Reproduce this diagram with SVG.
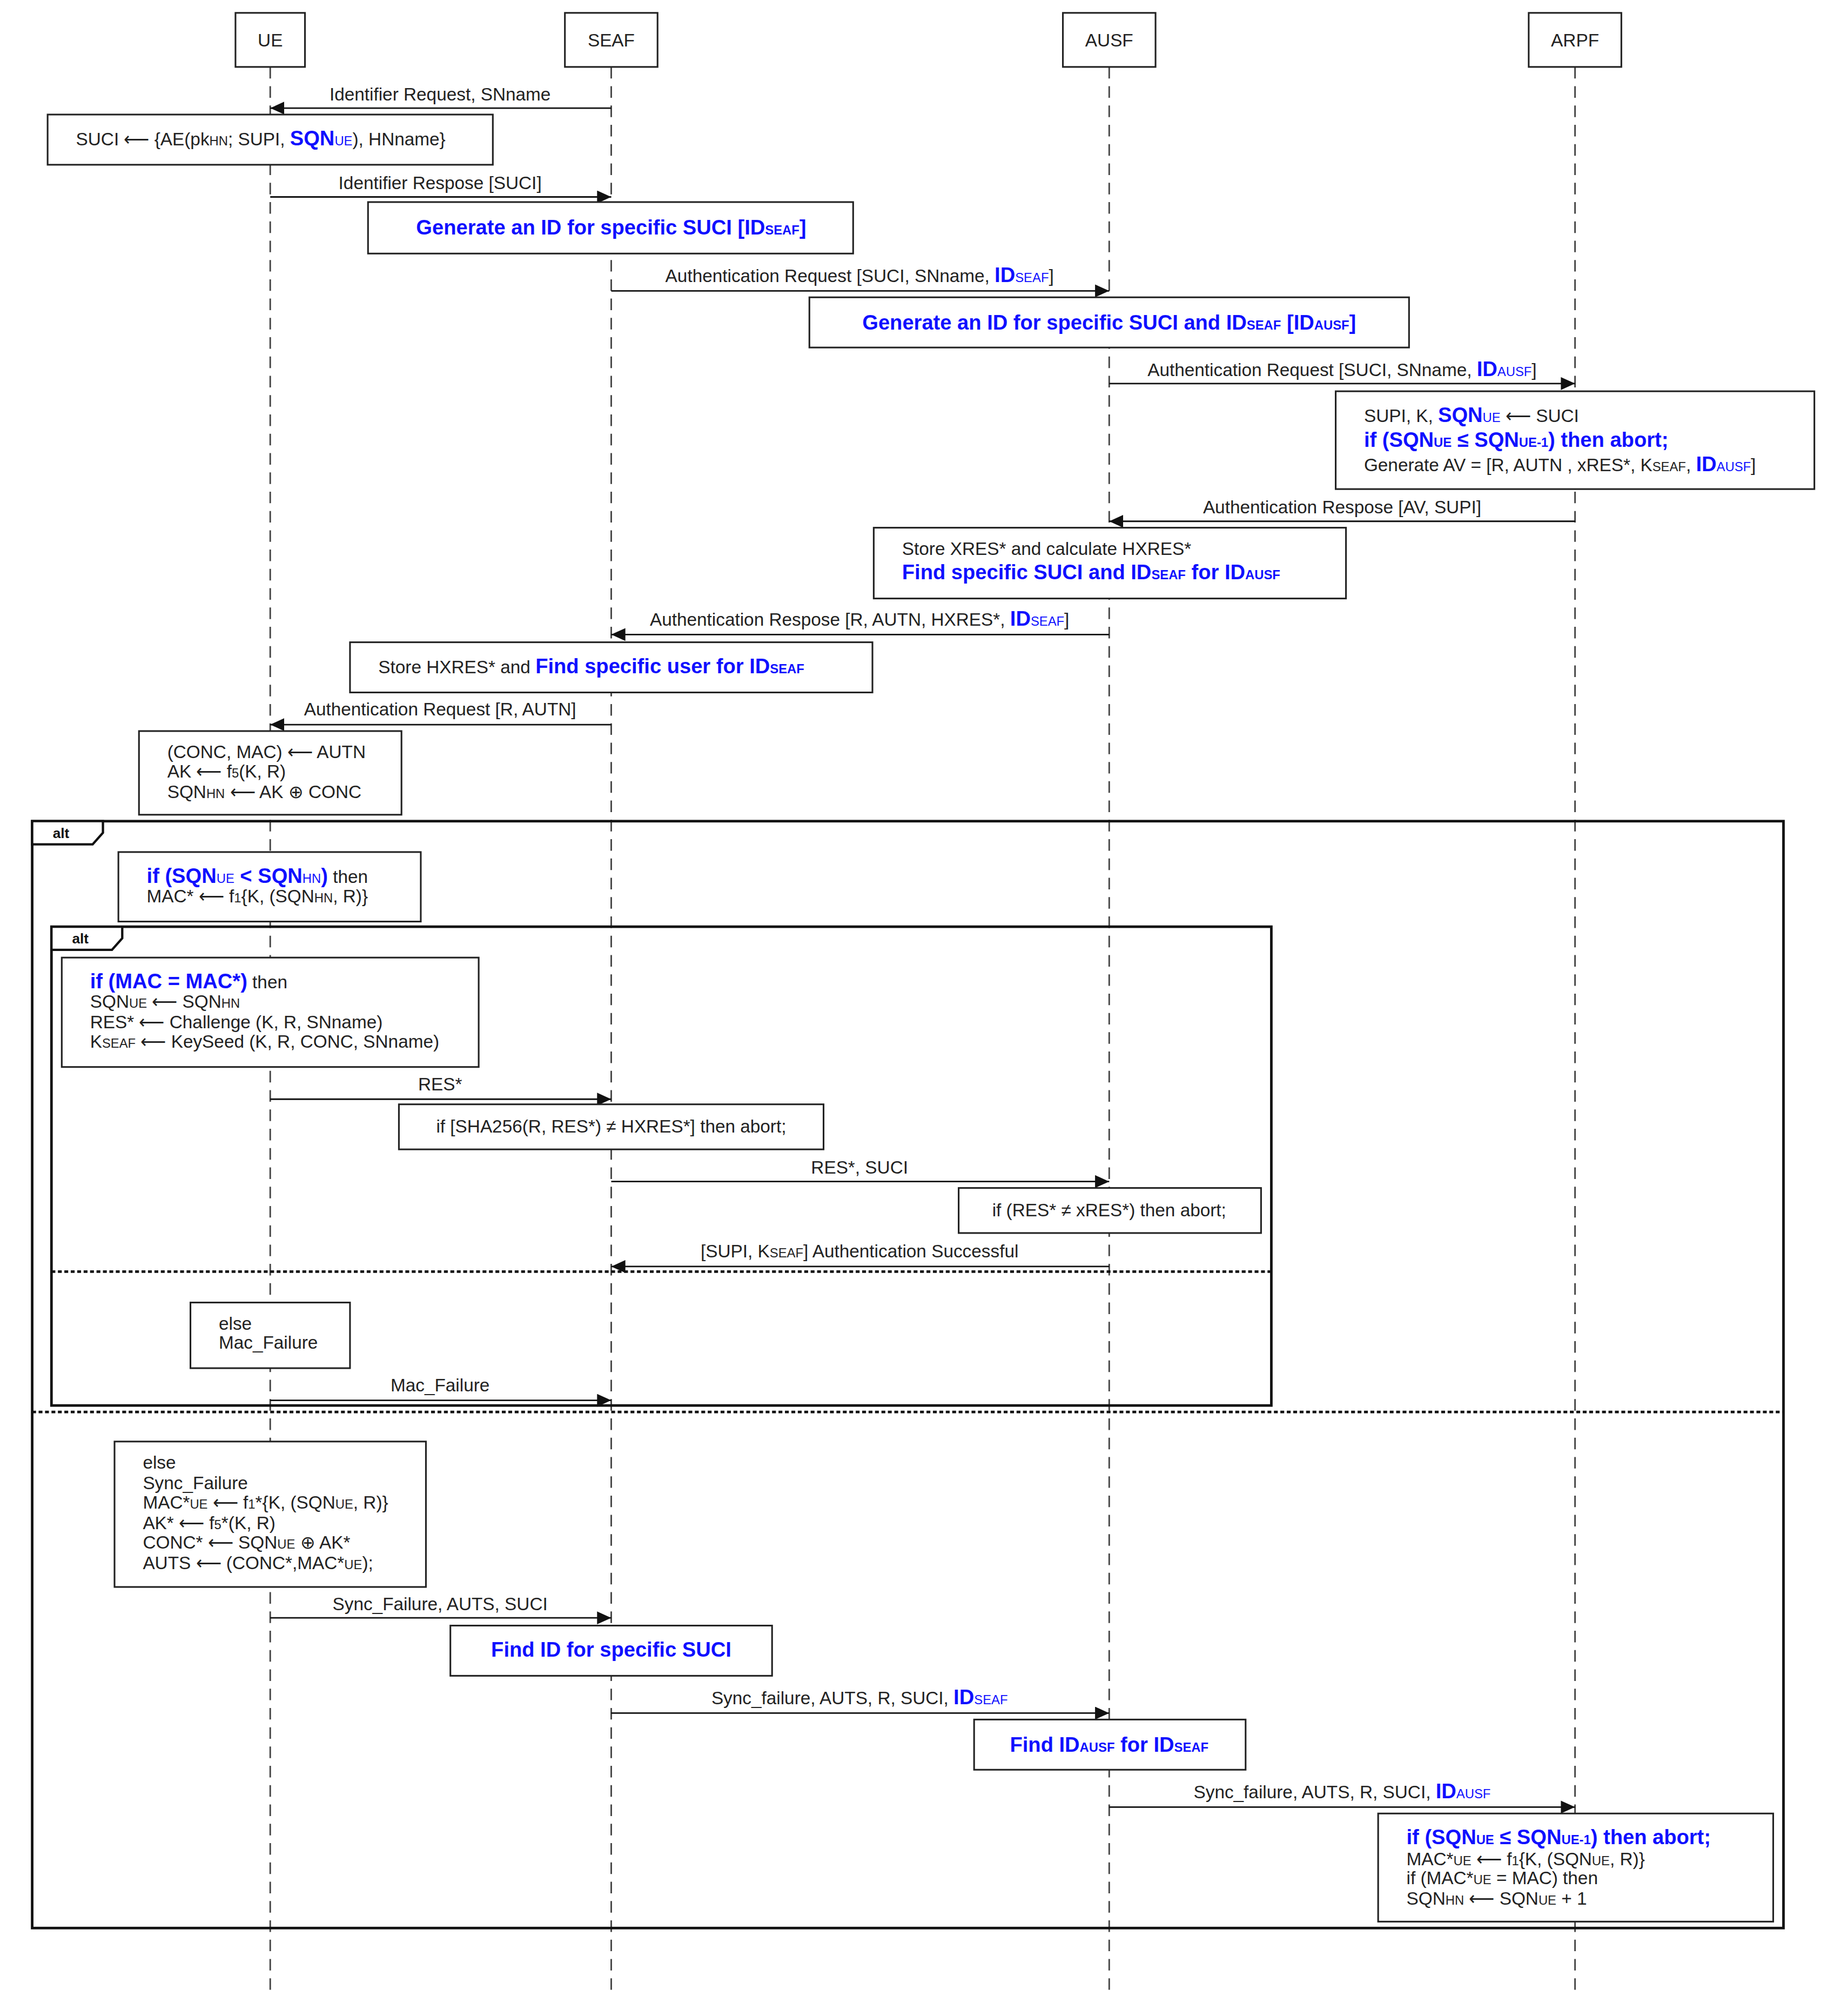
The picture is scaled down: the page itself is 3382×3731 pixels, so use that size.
<svg xmlns="http://www.w3.org/2000/svg" width="3382" height="3731" viewBox="0 0 3382 3731">
<style>
.t{font-family:"Liberation Sans",Arial,sans-serif;font-size:14px;fill:#222}
.m{text-anchor:middle}
.b{fill:#1010ff;font-weight:bold;font-size:16px}
.s{font-size:10px}
.bx{fill:#fff;stroke:#222;stroke-width:1.3}
.ll{stroke:#444;stroke-width:1.2;stroke-dasharray:9,6;fill:none}
.msg{stroke:#111;stroke-width:1.2;fill:none;marker-end:url(#ah)}
.fr{fill:none;stroke:#111;stroke-width:2}
.dot{stroke:#111;stroke-width:2;stroke-dasharray:3,2}
.tab{fill:#fff;stroke:#111;stroke-width:1.8}
.tt{font-family:"Liberation Sans",Arial,sans-serif;font-size:11px;font-weight:bold;fill:#111}
</style>
<defs>
<marker id="ah" markerUnits="userSpaceOnUse" markerWidth="12" markerHeight="10" refX="11" refY="5" orient="auto"><path d="M0,0 L11,5 L0,10 Z" fill="#111"/></marker>
</defs>
<rect width="3382" height="3731" fill="#fff"/>
<g transform="scale(2.382)">
<g id="lifelines">
<line class="ll" x1="210" y1="52" x2="210" y2="1548"/>
<line class="ll" x1="475" y1="52" x2="475" y2="1548"/>
<line class="ll" x1="862" y1="52" x2="862" y2="1548"/>
<line class="ll" x1="1224" y1="52" x2="1224" y2="1548"/>
</g>
<g id="frames">
<rect class="fr" x="25" y="638" width="1361" height="860"/>
<path class="tab" d="M25,638 H80 V647 L72,656 H25 Z"/>
<text class="tt" x="41" y="651">alt</text>
<line class="dot" x1="25" y1="1097" x2="1386" y2="1097"/>
<rect class="fr" x="40" y="720" width="948" height="372"/>
<path class="tab" d="M40,720 H95 V729 L87,738 H40 Z"/>
<text class="tt" x="56" y="733">alt</text>
<line class="dot" x1="40" y1="988" x2="988" y2="988"/>
</g>
<g id="UE"><rect class="bx" x="183" y="10" width="54" height="42" stroke-width="2"/><text class="t m" x="210" y="36">UE</text></g>
<g id="SEAF"><rect class="bx" x="439" y="10" width="72" height="42" stroke-width="2"/><text class="t m" x="475" y="36">SEAF</text></g>
<g id="AUSF"><rect class="bx" x="826" y="10" width="72" height="42" stroke-width="2"/><text class="t m" x="862" y="36">AUSF</text></g>
<g id="ARPF"><rect class="bx" x="1188" y="10" width="72" height="42" stroke-width="2"/><text class="t m" x="1224" y="36">ARPF</text></g>
<g id="connectors">
<line class="msg" x1="475" y1="84" x2="210" y2="84"/>
<text class="t m" x="342" y="78">Identifier Request, SNname</text>
<line class="msg" x1="210" y1="153" x2="475" y2="153"/>
<text class="t m" x="342" y="147">Identifier Respose [SUCI]</text>
<line class="msg" x1="475" y1="226" x2="862" y2="226"/>
<text class="t m" x="668" y="219">Authentication Request [SUCI, SNname, <tspan class="b">ID</tspan><tspan class="s" fill="#1010ff">SEAF</tspan>]</text>
<line class="msg" x1="862" y1="298" x2="1224" y2="298"/>
<text class="t m" x="1043" y="292">Authentication Request [SUCI, SNname, <tspan class="b">ID</tspan><tspan class="s" fill="#1010ff">AUSF</tspan>]</text>
<line class="msg" x1="1224" y1="405" x2="862" y2="405"/>
<text class="t m" x="1043" y="399">Authentication Respose [AV, SUPI]</text>
<line class="msg" x1="862" y1="493" x2="475" y2="493"/>
<text class="t m" x="668" y="486">Authentication Respose [R, AUTN, HXRES*, <tspan class="b">ID</tspan><tspan class="s" fill="#1010ff">SEAF</tspan>]</text>
<line class="msg" x1="475" y1="563" x2="210" y2="563"/>
<text class="t m" x="342" y="556">Authentication Request [R, AUTN]</text>
<line class="msg" x1="210" y1="854" x2="475" y2="854"/>
<text class="t m" x="342" y="847">RES*</text>
<line class="msg" x1="475" y1="918" x2="862" y2="918"/>
<text class="t m" x="668" y="912">RES*, SUCI</text>
<line class="msg" x1="862" y1="984" x2="475" y2="984"/>
<text class="t m" x="668" y="977">[SUPI, K<tspan class="s">SEAF</tspan>] Authentication Successful</text>
<line class="msg" x1="210" y1="1088" x2="475" y2="1088"/>
<text class="t m" x="342" y="1081">Mac_Failure</text>
<line class="msg" x1="210" y1="1257" x2="475" y2="1257"/>
<text class="t m" x="342" y="1251">Sync_Failure, AUTS, SUCI</text>
<line class="msg" x1="475" y1="1331" x2="862" y2="1331"/>
<text class="t m" x="668" y="1324">Sync_failure, AUTS, R, SUCI, <tspan class="b">ID</tspan><tspan class="s" fill="#1010ff">SEAF</tspan></text>
<line class="msg" x1="862" y1="1404" x2="1224" y2="1404"/>
<text class="t m" x="1043" y="1397">Sync_failure, AUTS, R, SUCI, <tspan class="b">ID</tspan><tspan class="s" fill="#1010ff">AUSF</tspan></text>
</g>
<g id="n_suci"><rect class="bx" x="37" y="89" width="346" height="39"/>
<text class="t" x="59" y="113">SUCI ⟵ {AE(pk<tspan class="s">HN</tspan>; SUPI,  <tspan class="b">SQN</tspan><tspan class="s" fill="#1010ff">UE</tspan>), HNname}</text></g>
<g id="n_gen1"><rect class="bx" x="286" y="157" width="377" height="40"/>
<text class="t m b" x="475" y="182">Generate an ID for specific SUCI [ID<tspan class="s">SEAF</tspan>]</text></g>
<g id="n_gen2"><rect class="bx" x="629" y="231" width="466" height="39"/>
<text class="t m b" x="862" y="256">Generate an ID for specific SUCI and ID<tspan class="s">SEAF</tspan> [ID<tspan class="s">AUSF</tspan>]</text></g>
<g id="n_arpf1"><rect class="bx" x="1038" y="304" width="372" height="76"/>
<text class="t" x="1060" y="328">SUPI, K, <tspan class="b">SQN</tspan><tspan class="s" fill="#1010ff">UE</tspan> ⟵ SUCI</text>
<text class="t b" x="1060" y="347">if (SQN<tspan class="s">UE</tspan> ≤ SQN<tspan class="s">UE-1</tspan>) then abort;</text>
<text class="t" x="1060" y="366">Generate AV = [R, AUTN , xRES*, K<tspan class="s">SEAF</tspan>, <tspan class="b">ID</tspan><tspan class="s" fill="#1010ff">AUSF</tspan>]</text></g>
<g id="n_store1"><rect class="bx" x="679" y="410" width="367" height="55"/>
<text class="t" x="701" y="431">Store XRES* and calculate HXRES*</text>
<text class="t b" x="701" y="450">Find specific SUCI and ID<tspan class="s">SEAF</tspan> for ID<tspan class="s">AUSF</tspan></text></g>
<g id="n_store2"><rect class="bx" x="272" y="499" width="406" height="39"/>
<text class="t" x="294" y="523">Store HXRES* and <tspan class="b">Find specific user for ID</tspan><tspan class="s" fill="#1010ff" font-weight="bold">SEAF</tspan></text></g>
<g id="n_conc"><rect class="bx" x="108" y="568" width="204" height="65"/>
<text class="t" x="130" y="589">(CONC, MAC) ⟵ AUTN</text>
<text class="t" x="130" y="604">AK ⟵ f<tspan class="s">5</tspan>(K, R)</text>
<text class="t" x="130" y="620">SQN<tspan class="s">HN</tspan> ⟵ AK ⊕ CONC</text></g>
<g id="n_sqn"><rect class="bx" x="92" y="662" width="235" height="54"/>
<text class="t" x="114" y="686"><tspan class="b">if (SQN</tspan><tspan class="s" fill="#1010ff">UE</tspan><tspan class="b"> &lt; SQN</tspan><tspan class="s" fill="#1010ff">HN</tspan><tspan class="b">)</tspan> then</text>
<text class="t" x="114" y="701">MAC* ⟵ f<tspan class="s">1</tspan>{K, (SQN<tspan class="s">HN</tspan>, R)}</text></g>
<g id="n_mac"><rect class="bx" x="48" y="744" width="324" height="85"/>
<text class="t" x="70" y="768"><tspan class="b">if (MAC = MAC*)</tspan> then</text>
<text class="t" x="70" y="783">SQN<tspan class="s">UE</tspan> ⟵ SQN<tspan class="s">HN</tspan></text>
<text class="t" x="70" y="799">RES* ⟵ Challenge (K, R, SNname)</text>
<text class="t" x="70" y="814">K<tspan class="s">SEAF</tspan> ⟵ KeySeed (K, R, CONC, SNname)</text></g>
<g id="n_sha"><rect class="bx" x="310" y="858" width="330" height="35"/>
<text class="t m" x="475" y="880">if [SHA256(R, RES*) ≠ HXRES*] then abort;</text></g>
<g id="n_xres"><rect class="bx" x="745" y="923" width="235" height="35"/>
<text class="t m" x="862" y="945">if (RES* ≠ xRES*) then abort;</text></g>
<g id="n_macf"><rect class="bx" x="148" y="1012" width="124" height="51"/>
<text class="t" x="170" y="1033">else</text>
<text class="t" x="170" y="1048">Mac_Failure</text></g>
<g id="n_sync"><rect class="bx" x="89" y="1120" width="242" height="113"/>
<text class="t" x="111" y="1141">else</text>
<text class="t" x="111" y="1157">Sync_Failure</text>
<text class="t" x="111" y="1172">MAC*<tspan class="s">UE</tspan> ⟵ f<tspan class="s">1</tspan>*{K, (SQN<tspan class="s">UE</tspan>, R)}</text>
<text class="t" x="111" y="1188">AK* ⟵ f<tspan class="s">5</tspan>*(K, R)</text>
<text class="t" x="111" y="1203">CONC* ⟵ SQN<tspan class="s">UE</tspan> ⊕ AK*</text>
<text class="t" x="111" y="1219">AUTS ⟵ (CONC*,MAC*<tspan class="s">UE</tspan>);</text></g>
<g id="n_find1"><rect class="bx" x="350" y="1263" width="250" height="39"/>
<text class="t m b" x="475" y="1287">Find ID for specific SUCI</text></g>
<g id="n_find2"><rect class="bx" x="757" y="1336" width="211" height="39"/>
<text class="t m b" x="862" y="1361">Find ID<tspan class="s">AUSF</tspan> for ID<tspan class="s">SEAF</tspan></text></g>
<g id="n_arpf2"><rect class="bx" x="1071" y="1409" width="307" height="84"/>
<text class="t b" x="1093" y="1433">if (SQN<tspan class="s">UE</tspan> ≤ SQN<tspan class="s">UE-1</tspan>) then abort;</text>
<text class="t" x="1093" y="1449">MAC*<tspan class="s">UE</tspan> ⟵ f<tspan class="s">1</tspan>{K, (SQN<tspan class="s">UE</tspan>, R)}</text>
<text class="t" x="1093" y="1464">if (MAC*<tspan class="s">UE</tspan> = MAC) then</text>
<text class="t" x="1093" y="1480">SQN<tspan class="s">HN</tspan> ⟵ SQN<tspan class="s">UE</tspan> + 1</text></g>
</g>
</svg>
